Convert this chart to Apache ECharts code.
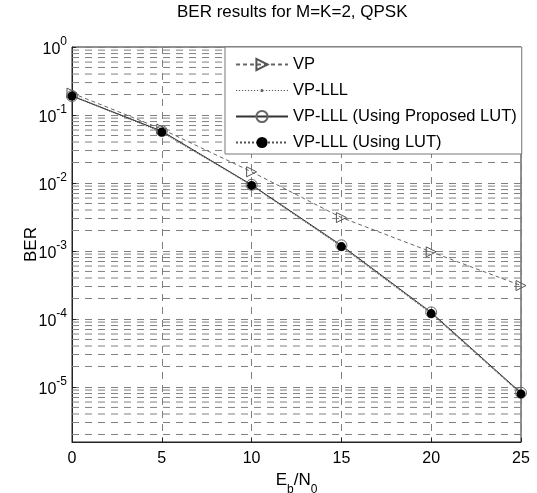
<!DOCTYPE html>
<html><head><meta charset="utf-8">
<script src="https://cdn.jsdelivr.net/npm/echarts@6/dist/echarts.min.js"></script>
<style>html,body{margin:0;padding:0;background:#fff}#c{width:537px;height:493px}</style>
</head><body><div id="c"></div>
<script>
// ---- data ----
const ebn0 = [0, 5, 10, 15, 20, 25];
const berVP = [0.21, 0.062, 0.0146, 0.0031, 0.00097, 0.00031];
const berLLL = [0.195, 0.057, 0.0093, 0.00118, 0.000122, 8.0e-6];
const berProposed = [0.19, 0.058, 0.0094, 0.00121, 0.000125, 8.2e-6];
const berLUT = [0.19, 0.056, 0.0092, 0.00116, 0.00012, 7.9e-6];
const xTickValues = [0, 5, 10, 15, 20, 25];
const seriesNames = ['VP', 'VP-LLL', 'VP-LLL (Using Proposed LUT)', 'VP-LLL (Using LUT)'];
const yMin = 1.55e-6, yMax = 1;
const FONT = 'Liberation Sans, Arial, Helvetica, sans-serif';

// minor log grid values (2..9 x 10^k) inside the axis range
const minorGrid = [];
for (let k = -6; k <= -1; k++) {
  for (let m = 2; m <= 9; m++) {
    const v = m * Math.pow(10, k);
    if (v > yMin && v < yMax) minorGrid.push(v);
  }
}
const xLo = xTickValues[0], xHi = xTickValues[xTickValues.length - 1];
const minorData = [];
minorGrid.forEach(v => { minorData.push([xLo, v], [xHi, v], '-'); });

const zip = (ys) => ebn0.map((x, i) => [x, ys[i]]);
const gridDash = { color: '#808080', width: 1, type: [7, 6] };

// small dotted-line + tiny dot legend icon for VP-LLL
let lllIcon = 'path://';
for (let x = 0; x < 52; x += 3) lllIcon += 'M' + x + ',6.5h1.2v1h-1.2Z';
lllIcon += 'M24.4,7a1.6,1.6 0 1,0 3.2,0a1.6,1.6 0 1,0 -3.2,0Z';

const chart = echarts.init(document.getElementById('c'), null, { renderer: 'canvas' });
chart.setOption({
  animation: false,
  backgroundColor: '#fff',
  textStyle: { fontFamily: FONT },
  title: {
    text: 'BER results for M=K=2, QPSK',
    left: 172, top: -1,
    textStyle: { fontSize: 17, fontWeight: 'normal', color: '#000', fontFamily: FONT }
  },
  grid: {
    left: 72, right: 16, top: 47, bottom: 51, show: true,
    borderColor: '#222', borderWidth: 1, backgroundColor: 'transparent',
    containLabel: false, outerBoundsMode: 'none'
  },
  legend: {
    orient: 'vertical', left: 225, top: 47,
    itemWidth: 52, itemHeight: 14, itemGap: 9,
    padding: [9, 5, 3, 10],
    backgroundColor: '#fff', borderColor: '#777', borderWidth: 1, borderRadius: 0,
    textStyle: { fontSize: 16.5, color: '#000', fontFamily: FONT },
    data: [
      { name: seriesNames[0] },
      { name: seriesNames[1], icon: lllIcon, itemStyle: { color: '#555', borderWidth: 0 } },
      { name: seriesNames[2] },
      { name: seriesNames[3] }
    ]
  },
  xAxis: {
    type: 'value', min: xLo, max: xHi, interval: 5,
    name: '{a|E}{b|b}{a|/N}{b|0}', nameLocation: 'middle', nameGap: 30, nameMoveOverlap: false,
    nameTextStyle: { rich: {
      a: { fontSize: 17, color: '#000', lineHeight: 19, verticalAlign: 'top', fontFamily: FONT },
      b: { fontSize: 12, color: '#000', lineHeight: 24, verticalAlign: 'bottom', fontFamily: FONT }
    } },
    axisLine: { show: true, lineStyle: { color: '#222' } },
    axisTick: { show: true, inside: true, length: 4, lineStyle: { color: '#222' } },
    axisLabel: { fontSize: 16, color: '#000', margin: 9, fontFamily: FONT },
    splitLine: { show: true, lineStyle: gridDash }
  },
  yAxis: {
    type: 'log', logBase: 10, min: yMin, max: yMax,
    name: 'BER', nameLocation: 'middle', nameGap: 32, nameRotate: 90, nameMoveOverlap: false,
    nameTextStyle: { fontSize: 17, color: '#000', fontFamily: FONT },
    axisLine: { show: true, lineStyle: { color: '#222' } },
    axisTick: { show: true, inside: true, length: 4, lineStyle: { color: '#222' } },
    axisLabel: {
      margin: 5, color: '#000',
      formatter: function (v) {
        const e = Math.log10(v);
        if (Math.abs(e - Math.round(e)) > 1e-6) return '';
        return '{a|10}{b|' + Math.round(e) + '}';
      },
      rich: {
        a: { fontSize: 16, color: '#000', lineHeight: 22, verticalAlign: 'bottom', fontFamily: FONT },
        b: { fontSize: 12, color: '#000', lineHeight: 12, verticalAlign: 'top', fontFamily: FONT }
      }
    },
    splitLine: { show: true, lineStyle: gridDash }
  },
  series: [
    {
      name: 'minorGrid', type: 'line', data: minorData, symbol: 'none',
      silent: true, connectNulls: false, z: 1,
      lineStyle: gridDash, tooltip: { show: false }
    },
    {
      name: 'VP', type: 'line', data: zip(berVP),
      symbol: 'path://M0,0L10,5L0,10Z', symbolSize: 10, symbolKeepAspect: true,
      lineStyle: { color: '#666', width: 1, type: [4, 3] },
      itemStyle: { color: 'rgba(255,255,255,0)', borderColor: '#555', borderWidth: 1 },
      z: 3
    },
    {
      name: 'VP-LLL', type: 'line', data: zip(berLLL),
      symbol: 'circle', symbolSize: 3,
      lineStyle: { color: '#777', width: 1, type: 'dotted' },
      itemStyle: { color: '#555' }, z: 4
    },
    {
      name: 'VP-LLL (Using Proposed LUT)', type: 'line', data: zip(berProposed),
      symbol: 'circle', symbolSize: 11,
      lineStyle: { color: '#333', width: 1, type: 'solid' },
      itemStyle: { color: 'rgba(255,255,255,0)', borderColor: '#666', borderWidth: 1 }, z: 5
    },
    {
      name: 'VP-LLL (Using LUT)', type: 'line', data: zip(berLUT),
      symbol: 'circle', symbolSize: 9,
      lineStyle: { color: '#555', width: 1, type: 'dotted' },
      itemStyle: { color: '#000' }, z: 6
    }
  ]
});
</script></body></html>
